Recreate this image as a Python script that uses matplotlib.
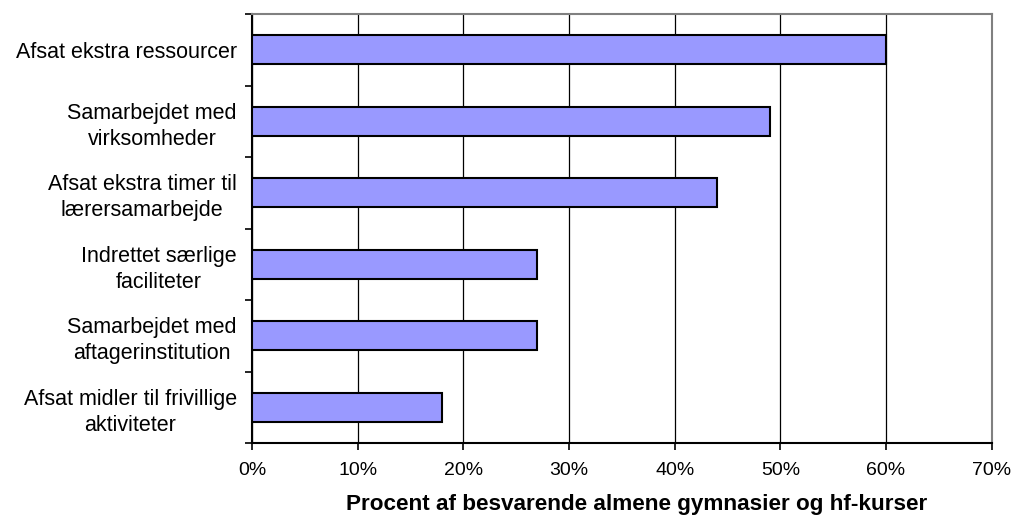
import matplotlib.pyplot as plt
import numpy as np

# Andel af skoler der har gjort hvert tiltag (procent)
categories = [
    'Afsat ekstra ressourcer',
    'Samarbejdet med\nvirksomheder',
    'Afsat ekstra timer til\nlærersamarbejde',
    'Indrettet særlige\nfaciliteter',
    'Samarbejdet med\naftagerinstitution',
    'Afsat midler til frivillige\naktiviteter',
]
values = [60, 49, 44, 27, 27, 18]
xticks = [0, 10, 20, 30, 40, 50, 60, 70]

plt.rcParams['font.family'] = ['Liberation Sans', 'DejaVu Sans']

fig = plt.figure(figsize=(10.14, 5.21), dpi=100)
ax = fig.add_axes([0.2485, 0.1497, 0.7295, 0.8234])

pos = np.arange(len(categories))
ax.barh(pos, values, height=0.4, color='#9999FF', edgecolor='black',
        linewidth=1.5, zorder=3)

ax.set_xlim(0, 70)
ax.set_ylim(len(categories) - 0.5, -0.5)

# gridlines only on x
ax.set_xticks(xticks)
ax.set_xticklabels([f'{t}%' for t in xticks], fontsize=14)
ax.grid(axis='x', color='black', linewidth=0.9, zorder=0)

# category boundaries get the tick marks, labels sit at the bar centres
ax.set_yticks(np.arange(len(categories) + 1) - 0.5)
ax.set_yticklabels([])
ax.set_yticks(pos, minor=True)
ax.set_yticklabels(categories, minor=True, fontsize=15.5,
                   multialignment='center', linespacing=1.3)
ax.tick_params(axis='y', which='minor', length=0, pad=11)
ax.tick_params(axis='y', which='major', length=5, width=1.2, direction='out')
ax.tick_params(axis='x', length=5, width=1.2, direction='out', pad=9)

for side in ['top', 'right']:
    ax.spines[side].set_color('#808080')
    ax.spines[side].set_linewidth(1.5)
for side in ['left', 'bottom']:
    ax.spines[side].set_color('black')
    ax.spines[side].set_linewidth(1.5)

# axis title sits a little right of the axes centre
ax.text(0.52, -0.1445, 'Procent af besvarende almene gymnasier og hf-kurser',
        transform=ax.transAxes, ha='center', va='center',
        fontsize=16.2, fontweight='bold')

plt.savefig('out.png')
plt.close()
